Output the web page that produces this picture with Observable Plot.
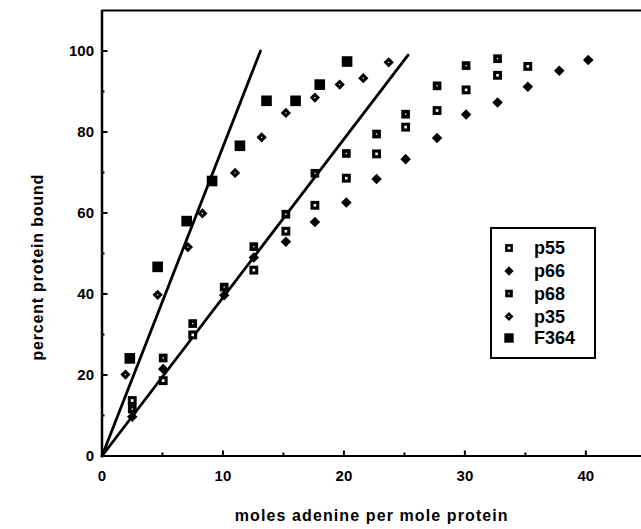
<!DOCTYPE html>
<html><head><meta charset="utf-8">
<script src="https://cdn.jsdelivr.net/npm/d3@7"></script>
<script src="https://cdn.jsdelivr.net/npm/@observablehq/plot@0.6"></script>
<style>
body{margin:0;background:#fff;}
#wrap{position:relative;width:641px;height:529px;overflow:hidden;font-family:"Liberation Sans",Arial,sans-serif;}
#legend{position:absolute;left:490px;top:227px;}
</style></head><body><div id="wrap"></div>
<script>
// ---- data ----
const p55X = [2.5, 5.06, 7.5, 12.55, 15.2, 17.6, 20.2, 22.7, 25.1, 27.7, 30.1, 32.7, 35.2];
const p55Y = [13.7, 18.6, 29.9, 45.9, 55.5, 61.9, 68.6, 74.6, 81.2, 85.3, 90.4, 94.0, 96.2];
const p66X = [2.5, 5.06, 10.1, 12.55, 15.2, 17.6, 20.2, 22.7, 25.1, 27.7, 30.1, 32.7, 35.2, 37.8, 40.2];
const p66Y = [9.7, 21.5, 39.7, 49.0, 52.9, 57.8, 62.6, 68.4, 73.3, 78.5, 84.3, 87.3, 91.2, 95.1, 97.8];
const p68X = [2.5, 5.06, 7.5, 10.1, 12.55, 15.2, 17.6, 20.2, 22.7, 25.1, 27.7, 30.1, 32.7];
const p68Y = [11.6, 24.2, 32.7, 41.7, 51.7, 59.7, 69.8, 74.7, 79.5, 84.4, 91.4, 96.4, 98.1];
const p35X = [1.94, 4.6, 7.1, 8.3, 11.0, 13.2, 15.2, 17.6, 19.65, 21.6, 23.7];
const p35Y = [20.1, 39.8, 51.6, 59.9, 69.9, 78.7, 84.7, 88.5, 91.7, 93.3, 97.2];
const f364X = [2.3, 4.6, 7.0, 9.1, 11.4, 13.6, 16.0, 18.0, 20.26];
const f364Y = [24.1, 46.7, 58.0, 67.9, 76.6, 87.7, 87.7, 91.7, 97.4];
// fitted lines (end points)
const steepLineX = [0, 13.1];
const steepLineY = [0, 100];
const shallowLineX = [0, 25.3];
const shallowLineY = [0, 99];
// axes
const xDomain = [0, 44.6];
const yDomain = [0, 110];
const xTicks = [0, 10, 20, 30, 40];
const xMinorTicks = [5, 15, 25, 35];
const yTicks = [0, 20, 40, 60, 80, 100];
const yMinorTicks = [10, 30, 50, 70, 90];
const xTitle = "moles adenine per mole protein";
const yTitle = "percent protein bound";
const legendLabels = ["p55", "p66", "p68", "p35", "F364"];

const pts = (xs, ys) => xs.map((x, i) => ({x, y: ys[i]}));

// marker styles per series
const styles = {
  p55:  {outer: {r: 5.0, rotate: 0}, inner: {r: 1.5}},
  p66:  {outer: {r: 4.2, rotate: 45}},
  p68:  {outer: {r: 4.9, rotate: 0}, inner: {r: 0.75}},
  p35:  {outer: {r: 4.1, rotate: 45}, inner: {r: 0.7}},
  F364: {outer: {r: 6.0, rotate: 0}}
};
const series = {
  p55: pts(p55X, p55Y), p66: pts(p66X, p66Y), p68: pts(p68X, p68Y),
  p35: pts(p35X, p35Y), F364: pts(f364X, f364Y)
};

function dotMarks(name) {
  const s = styles[name], d = series[name];
  const m = [Plot.dot(d, {x: "x", y: "y", symbol: "square", r: s.outer.r, rotate: s.outer.rotate, fill: "black", stroke: "none"})];
  if (s.inner) m.push(Plot.dot(d, {x: "x", y: "y", symbol: "square", r: s.inner.r, fill: "white", stroke: "none"}));
  return m;
}

const chart = Plot.plot({
  width: 641, height: 529,
  marginLeft: 101.5, marginRight: 0, marginTop: 10, marginBottom: 73.5,
  x: {domain: xDomain},
  y: {domain: yDomain},
  style: {fontFamily: "Liberation Sans, Arial, sans-serif", fontSize: "15px", fontWeight: "bold", color: "black", background: "white"},
  marks: [
    Plot.axisX({ticks: xTicks, tickSize: -5, tickPadding: 19.5, strokeWidth: 2, label: null, fontSize: 15}),
    Plot.axisX({ticks: xMinorTicks, tickSize: -3, strokeWidth: 2, tickFormat: () => "", label: null}),
    Plot.axisY({ticks: yTicks, tickSize: -6, tickPadding: 14, strokeWidth: 2, label: null, fontSize: 15}),
    Plot.axisY({ticks: yMinorTicks, tickSize: -3, strokeWidth: 2, tickFormat: () => "", label: null}),
    Plot.ruleX([xDomain[0]], {stroke: "black", strokeWidth: 2.5}),
    Plot.ruleY([yDomain[0], yDomain[1]], {stroke: "black", strokeWidth: 2.2}),
    Plot.line(pts(steepLineX, steepLineY), {x: "x", y: "y", stroke: "black", strokeWidth: 2.8}),
    Plot.line(pts(shallowLineX, shallowLineY), {x: "x", y: "y", stroke: "black", strokeWidth: 2.8}),
    ...dotMarks("p66"), ...dotMarks("p55"), ...dotMarks("p68"), ...dotMarks("p35"), ...dotMarks("F364"),
    Plot.text([xTitle], {frameAnchor: "bottom", dy: 64.5, textAnchor: "middle", fontSize: 16, fontWeight: "bold", fill: "black"}),
    Plot.text([yTitle], {frameAnchor: "left", textAnchor: "middle", rotate: -90, dx: -64.5, dy: 34, fontSize: 16, fontWeight: "bold", fill: "black"})
  ]
});
d3.select(chart).selectAll("text")
  .filter(function() { return this.textContent === xTitle || this.textContent === yTitle; })
  .attr("letter-spacing", function() { return this.textContent === xTitle ? "1.1px" : "0.8px"; });
const wrap = document.getElementById("wrap");
wrap.appendChild(chart);

// legend
const lw = 106, lh = 132;
const lsvg = d3.select(wrap).append("svg").attr("id", "legend").attr("width", lw).attr("height", lh);
lsvg.append("rect").attr("x", 1).attr("y", 1).attr("width", lw - 2).attr("height", lh - 2)
  .attr("fill", "white").attr("stroke", "black").attr("stroke-width", 2);
const rowY = [21, 44, 66.5, 89.5, 111];
const symSize = r => Math.PI * r * r;
legendLabels.forEach((name, i) => {
  const s = styles[name];
  const g = lsvg.append("g").attr("transform", `translate(19,${rowY[i]})`);
  g.append("path").attr("d", d3.symbol(d3.symbolSquare, symSize(s.outer.r * 0.88))())
    .attr("transform", `rotate(${s.outer.rotate})`).attr("fill", "black");
  if (s.inner) g.append("path").attr("d", d3.symbol(d3.symbolSquare, symSize(s.inner.r))()).attr("fill", "white");
  lsvg.append("text").attr("x", 44).attr("y", rowY[i]).attr("dy", "0.36em")
    .attr("font-family", "Liberation Sans, Arial, sans-serif").attr("font-size", 18).attr("font-weight", "bold")
    .text(name);
});
</script></body></html>
